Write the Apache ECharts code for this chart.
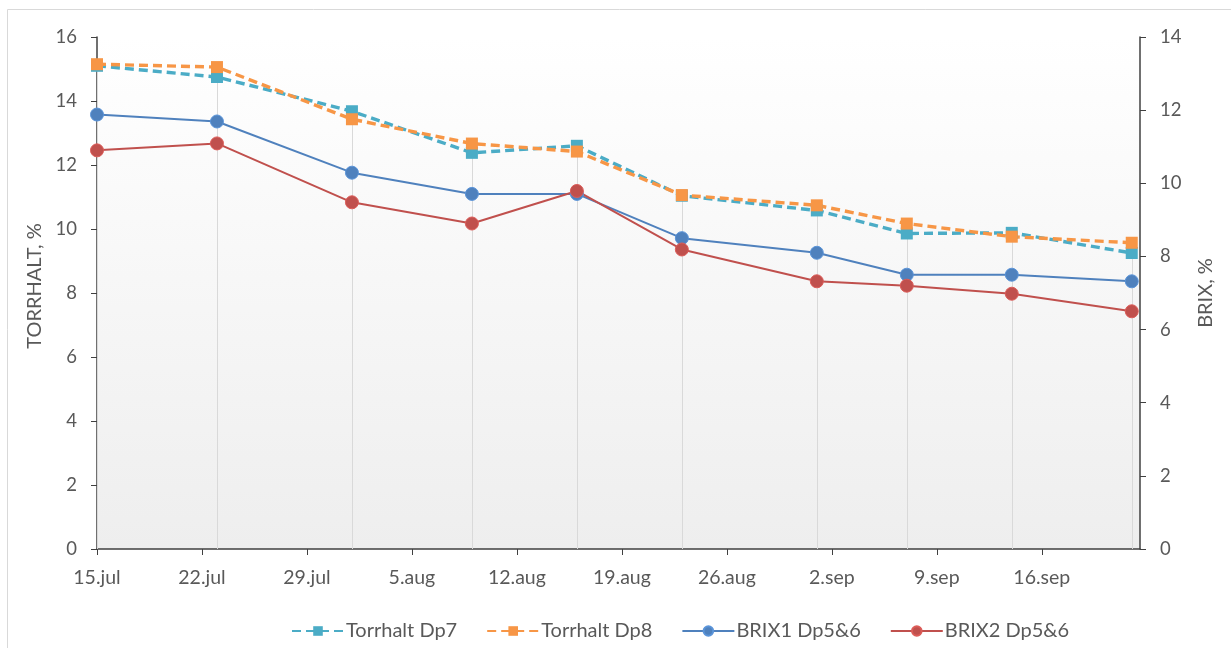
<!DOCTYPE html>
<html>
<head>
<meta charset="utf-8">
<script src="https://cdn.jsdelivr.net/npm/echarts@6/dist/echarts.min.js"></script>
<style>
  html, body { margin: 0; padding: 0; background: #ffffff; }
  #chart { width: 1231px; height: 648px; }
</style>
</head>
<body>
<div id="chart"></div>
<script>
// Sampling dates (month-day) and measured values
const sampleDates = ['07-15', '07-23', '08-01', '08-09', '08-16', '08-23', '09-01', '09-07', '09-14', '09-22'];
const torrhaltDp7 = [15.1, 14.75, 13.68, 12.38, 12.6, 11.04, 10.58, 9.86, 9.88, 9.25];
const torrhaltDp8 = [15.15, 15.06, 13.43, 12.67, 12.42, 11.06, 10.74, 10.17, 9.76, 9.57];
const brix1 = [11.88, 11.69, 10.29, 9.71, 9.71, 8.50, 8.10, 7.50, 7.50, 7.32];
const brix2 = [10.90, 11.09, 9.48, 8.90, 9.79, 8.19, 7.32, 7.20, 6.98, 6.50];
const monthNames = ['jan', 'feb', 'mar', 'apr', 'mai', 'jun', 'jul', 'aug', 'sep', 'okt', 'nov', 'des'];
const seriesNames = ['Torrhalt Dp7', 'Torrhalt Dp8', 'BRIX1 Dp5&6', 'BRIX2 Dp5&6'];

// x positions are whole days counted from the first sampling date
const DAY = 86400000;
const origin = Date.UTC(2000, 6, 15);
const dayOffsets = sampleDates.map(s => {
  const [m, d] = s.split('-').map(Number);
  return Math.round((Date.UTC(2000, m - 1, d) - origin) / DAY);
});
const dayLabel = v => {
  const dt = new Date(origin + Math.round(v) * DAY);
  return dt.getUTCDate() + '.' + monthNames[dt.getUTCMonth()];
};
const pairs = arr => arr.map((v, i) => [dayOffsets[i], v]);

// drop lines run from the highest moisture reading down to the axis
const dropTops = dayOffsets.map((d, i) => [d, Math.max(torrhaltDp7[i], torrhaltDp8[i])]);

const FONT = 'Lato';
const TXT = '#595959';
const AXIS = '#404040';

const chart = echarts.init(document.getElementById('chart'), null, { renderer: 'canvas' });

const lineSeries = (name, data, color, dashed, symbol, yIdx) => ({
  name: name,
  type: 'line',
  data: pairs(data),
  yAxisIndex: yIdx,
  symbol: symbol,
  symbolSize: symbol === 'rect' ? 12 : 13,
  showSymbol: true,
  lineStyle: { color: color, width: dashed ? 3.4 : 2, type: dashed ? [9, 5] : 'solid' },
  itemStyle: { color: color, borderColor: dashed ? color : echarts.color.lift(color, -0.15), borderWidth: dashed ? 0 : 1 },
  z: 3,
  animation: false
});

chart.setOption({
  animation: false,
  textStyle: { fontFamily: FONT, color: TXT },
  graphic: [{
    type: 'rect',
    shape: { x: 7.5, y: 9.5, width: 1400, height: 800 },
    style: { fill: 'none', stroke: '#d9d9d9', lineWidth: 1 },
    silent: true,
    z: -10
  }],
  grid: {
    left: 97, right: 91, top: 37, bottom: 99,
    show: true,
    borderWidth: 0,
    backgroundColor: new echarts.graphic.LinearGradient(0, 0, 0, 1, [
      { offset: 0, color: '#ffffff' },
      { offset: 1, color: '#eeeeee' }
    ])
  },
  legend: {
    data: seriesNames,
    left: 286,
    top: 616,
    itemWidth: 52,
    itemHeight: 12,
    itemGap: 29,
    textStyle: { fontFamily: FONT, fontSize: 20, color: TXT, padding: [0, 0, 0, -3] }
  },
  xAxis: {
    type: 'value',
    min: 0,
    max: 69.55,
    interval: 7,
    axisLine: { show: true, lineStyle: { color: AXIS, width: 1.5 } },
    axisTick: { show: true, inside: false, length: 6, lineStyle: { color: AXIS } },
    splitLine: { show: false },
    axisLabel: {
      formatter: dayLabel,
      showMaxLabel: false,
      fontFamily: FONT, fontSize: 19.5, color: TXT, margin: 19
    }
  },
  yAxis: [{
    type: 'value',
    min: 0, max: 16, interval: 2,
    name: 'TORRHALT, %',
    nameLocation: 'middle',
    nameGap: 50,
    nameTextStyle: { fontFamily: FONT, fontSize: 20, color: TXT, padding: [0, 0, 0, 14] },
    axisLine: { show: true, lineStyle: { color: AXIS, width: 1.5 } },
    axisTick: { show: true, length: 6, lineStyle: { color: AXIS } },
    splitLine: { show: false },
    axisLabel: { fontFamily: FONT, fontSize: 18.5, color: TXT, margin: 20 }
  }, {
    type: 'value',
    min: 0, max: 14, interval: 2,
    position: 'right',
    name: 'BRIX, %',
    nameLocation: 'middle',
    nameGap: 56,
    nameTextStyle: { fontFamily: FONT, fontSize: 20, color: TXT },
    axisLine: { show: true, lineStyle: { color: AXIS, width: 1.5 } },
    axisTick: { show: true, length: 6, lineStyle: { color: AXIS } },
    splitLine: { show: false },
    axisLabel: { fontFamily: FONT, fontSize: 18.5, color: TXT, margin: 20 }
  }],
  series: [
    {
      name: 'drop lines',
      type: 'custom',
      data: dropTops,
      yAxisIndex: 0,
      silent: true,
      z: 1,
      renderItem: (params, api) => {
        const top = api.coord([api.value(0), api.value(1)]);
        const bottom = api.coord([api.value(0), 0]);
        return {
          type: 'line',
          shape: { x1: Math.round(top[0]) + 0.5, y1: top[1], x2: Math.round(bottom[0]) + 0.5, y2: bottom[1] },
          style: { stroke: '#d9d9d9', lineWidth: 1 }
        };
      }
    },
    lineSeries(seriesNames[0], torrhaltDp7, '#4bacc6', true, 'rect', 0),
    lineSeries(seriesNames[1], torrhaltDp8, '#f79646', true, 'rect', 0),
    lineSeries(seriesNames[2], brix1, '#4f81bd', false, 'circle', 1),
    lineSeries(seriesNames[3], brix2, '#c0504d', false, 'circle', 1)
  ]
});
</script>
</body>
</html>
